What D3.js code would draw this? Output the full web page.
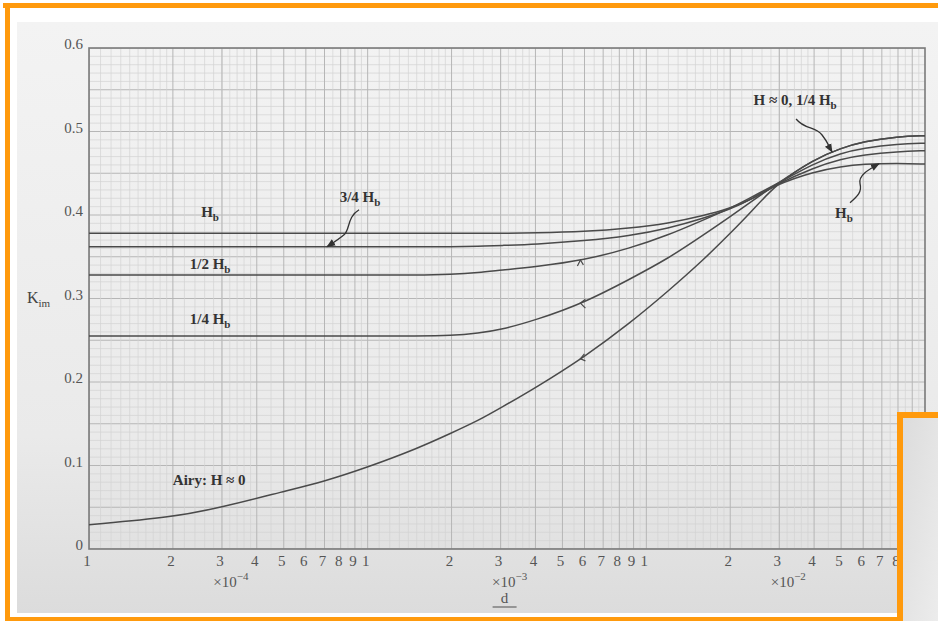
<!DOCTYPE html>
<html lang="en">
<head>
  <meta charset="UTF-8">
  <script src="https://cdn.jsdelivr.net/npm/d3@7"></script>
  <title>Kim vs d</title>
  <style>
    body { margin: 0; background: #fff; }
    svg { display: block; }
  </style>
</head>
<body>
  <svg width="938" height="621"></svg>
  <script>
    // d values (log axis) shared by all curves
    const dGrid = [1e-4, 2e-4, 3e-4, 5e-4, 7e-4, 1e-3, 1.5e-3, 2e-3, 2.5e-3, 3e-3, 4e-3, 6e-3, 8.7e-3,
                   1.2e-2, 1.6e-2, 2e-2, 2.4e-2, 2.9e-2, 4e-2, 5e-2, 6e-2, 8e-2, 1e-1];
    const kAiry  = [0.029, 0.038, 0.050, 0.069, 0.081, 0.098, 0.120, 0.139, 0.154, 0.169, 0.193, 0.230, 0.270,
                    0.309, 0.346, 0.378, 0.405, 0.436, 0.467, 0.480, 0.488, 0.494, 0.495];
    const kQuart = [0.255, 0.255, 0.255, 0.255, 0.255, 0.255, 0.255, 0.2555, 0.2585, 0.2625, 0.274, 0.295, 0.323,
                    0.348, 0.376, 0.398, 0.417, 0.436, 0.467, 0.480, 0.488, 0.494, 0.495];
    const kHalf  = [0.328, 0.328, 0.328, 0.328, 0.328, 0.328, 0.328, 0.329, 0.331, 0.334, 0.338, 0.346, 0.360,
                    0.376, 0.394, 0.408, 0.422, 0.436, 0.462, 0.474, 0.480, 0.485, 0.486];
    const kThree = [0.362, 0.362, 0.362, 0.362, 0.362, 0.362, 0.362, 0.362, 0.3625, 0.3635, 0.365, 0.369, 0.375,
                    0.384, 0.396, 0.407, 0.419, 0.436, 0.457, 0.467, 0.472, 0.476, 0.477];
    const kFull  = [0.378, 0.378, 0.378, 0.378, 0.378, 0.378, 0.378, 0.378, 0.378, 0.378, 0.3785, 0.380, 0.384,
                    0.390, 0.399, 0.408, 0.419, 0.436, 0.452, 0.458, 0.461, 0.462, 0.461];

    const yTicks = [0, 0.1, 0.2, 0.3, 0.4, 0.5, 0.6];
    const yTickLabels = ["0", "0.1", "0.2", "0.3", "0.4", "0.5", "0.6"];
    const decades = [-4, -3, -2];
    const mantissas = [1, 2, 3, 4, 5, 6, 7, 8, 9];

    const svg = d3.select("svg");
    const W = 938, H = 621;
    const serif = "'Liberation Serif', 'DejaVu Serif', serif";

    const x = d3.scaleLog().domain([1e-4, 1e-1]).range([89, 925]);
    const y = d3.scaleLinear().domain([0, 0.6]).range([549, 48]);

    // background: scanned page in an orange frame
    const defs = svg.append("defs");
    const bg = defs.append("linearGradient").attr("id", "paper").attr("x1", 0).attr("x2", 0).attr("y1", 0).attr("y2", 1);
    bg.append("stop").attr("offset", "0%").attr("stop-color", "#f3f3f3");
    bg.append("stop").attr("offset", "70%").attr("stop-color", "#eaeaea");
    bg.append("stop").attr("offset", "100%").attr("stop-color", "#dcdcdc");
    const bg2 = defs.append("linearGradient").attr("id", "inset").attr("x1", 0).attr("x2", 1).attr("y1", 0).attr("y2", 1);
    bg2.append("stop").attr("offset", "0%").attr("stop-color", "#dcdcdc");
    bg2.append("stop").attr("offset", "100%").attr("stop-color", "#ececec");

    svg.append("rect").attr("width", W).attr("height", H).attr("fill", "#fff");
    svg.append("rect").attr("x", 17).attr("y", 22).attr("width", W - 17).attr("height", 591).attr("fill", "url(#paper)");

    const orange = "#ff9a0d";
    svg.append("rect").attr("x", 3).attr("y", 3).attr("width", W - 3).attr("height", 5).attr("fill", orange);
    svg.append("rect").attr("x", 5).attr("y", 3).attr("width", 5).attr("height", H - 3).attr("fill", orange);
    svg.append("rect").attr("x", 5).attr("y", 617).attr("width", 895).attr("height", 4).attr("fill", orange);

    // graph paper grid
    defs.append("clipPath").attr("id", "plot")
      .append("rect").attr("x", 89).attr("y", 48).attr("width", 836).attr("height", 501);

    const grid = svg.append("g").attr("clip-path", "url(#plot)");
    const minorY = d3.range(0, 61).map(i => i / 100);
    grid.selectAll(".hy").data(minorY).join("line")
      .attr("x1", 89).attr("x2", 925)
      .attr("y1", d => y(d)).attr("y2", d => y(d))
      .attr("stroke", (d, i) => i % 5 === 0 ? "#b6b6b6" : "#d2d2d2")
      .attr("stroke-width", (d, i) => i % 5 === 0 ? 1 : 0.7);

    const minorX = [];
    decades.forEach(e => {
      const base = Math.pow(10, e);
      d3.range(1.1, 2, 0.1).forEach(m => minorX.push(m * base));
      d3.range(2.2, 4, 0.2).forEach(m => minorX.push(m * base));
      d3.range(4.5, 10, 1).forEach(m => minorX.push(m * base));
    });
    grid.selectAll(".mx").data(minorX).join("line")
      .attr("x1", d => x(d)).attr("x2", d => x(d))
      .attr("y1", 48).attr("y2", 549)
      .attr("stroke", "#d2d2d2").attr("stroke-width", 0.7);

    const majorX = [];
    decades.forEach(e => mantissas.forEach(m => majorX.push(m * Math.pow(10, e))));
    grid.selectAll(".Mx").data(majorX).join("line")
      .attr("x1", d => x(d)).attr("x2", d => x(d))
      .attr("y1", 48).attr("y2", 549)
      .attr("stroke", "#b6b6b6").attr("stroke-width", 1);

    // plot frame
    svg.append("rect").attr("x", 89).attr("y", 48).attr("width", 836).attr("height", 501)
      .attr("fill", "none").attr("stroke", "#7a7a7a").attr("stroke-width", 1.6);

    // curves
    const series = [kAiry, kQuart, kHalf, kThree, kFull];
    const line = d3.line().x(d => x(d[0])).y(d => y(d[1])).curve(d3.curveBasis);
    const paths = svg.append("g").attr("clip-path", "url(#plot)")
      .selectAll("path").data(series).join("path")
      .attr("d", ks => line(dGrid.map((d, i) => [d, ks[i]])))
      .attr("fill", "none").attr("stroke", "#4a4a4a").attr("stroke-width", 1.5);

    // point on a drawn curve at a given d (search along the path)
    const pointOn = (ks, d) => {
      const node = paths.filter(s => s === ks).node();
      const px = x(d);
      let lo = 0, hi = node.getTotalLength();
      for (let i = 0; i < 40; i++) {
        const mid = (lo + hi) / 2;
        if (node.getPointAtLength(mid).x < px) lo = mid; else hi = mid;
      }
      const p = node.getPointAtLength(lo);
      return [p.x, p.y];
    };

    // small direction marks on three curves
    const markD = 5.8e-3;
    const marks = svg.append("g").attr("stroke", "#4a4a4a").attr("stroke-width", 1.2).attr("fill", "none");
    [[kHalf, "M -3 6 L 0 0 L 3 5"], [kQuart, "M 5 -4 L 0 0 L 5 5"], [kAiry, "M 4 -5 L 0 0 L 5 2"]].forEach(([ks, p]) => {
      const [mx, my] = pointOn(ks, markD);
      marks.append("path").attr("transform", `translate(${mx},${my})`).attr("d", p);
    });

    // y axis labels
    svg.append("g").selectAll("text").data(yTicks).join("text")
      .attr("x", 83).attr("y", d => y(d) + 1)
      .attr("text-anchor", "end")
      .attr("font-family", serif).attr("font-size", 15).attr("fill", "#555")
      .text((d, i) => yTickLabels[i]);

    const kim = svg.append("text").attr("x", 27).attr("y", 303)
      .attr("font-family", serif).attr("font-size", 16).attr("fill", "#444");
    kim.append("tspan").text("K");
    kim.append("tspan").attr("dy", 4).attr("font-size", 11).text("im");

    // x axis labels
    svg.append("g").selectAll("text").data(majorX).join("text")
      .attr("x", d => x(d) - 2).attr("y", 566)
      .attr("text-anchor", "middle")
      .attr("font-family", serif).attr("font-size", 15).attr("fill", "#555")
      .text(d => Math.round(d / Math.pow(10, Math.floor(Math.log10(d) + 1e-9))));

    decades.forEach(e => {
      const t = svg.append("text")
        .attr("x", x(3 * Math.pow(10, e)) + 9).attr("y", 587)
        .attr("text-anchor", "middle")
        .attr("font-family", serif).attr("font-size", 15).attr("fill", "#555");
      t.append("tspan").text("\u00d710");
      t.append("tspan").attr("dy", -7).attr("font-size", 11).text("\u2212" + (-e));
    });

    svg.append("text").attr("x", x(3.1e-3)).attr("y", 603)
      .attr("text-anchor", "middle")
      .attr("font-family", serif).attr("font-size", 15).attr("fill", "#555").text("d");
    svg.append("line").attr("x1", x(3.1e-3) - 12).attr("x2", x(3.1e-3) + 12)
      .attr("y1", 607).attr("y2", 607).attr("stroke", "#666").attr("stroke-width", 1.2);

    // curve labels (bold, H with subscript b)
    const labels = [
      { d: 2.72e-4, k: 0.398, pre: "", sub: true },
      { d: 9.39e-4, k: 0.4156, pre: "3/4 ", sub: true },
      { d: 2.72e-4, k: 0.335, pre: "1/2 ", sub: true },
      { d: 2.72e-4, k: 0.269, pre: "1/4 ", sub: true },
      { d: 2.70e-4, k: 0.0766, pre: "Airy: H \u2248 0", sub: false },
      { d: 3.42e-2, k: 0.5317, pre: "H \u2248 0, 1/4 ", sub: true },
      { d: 5.12e-2, k: 0.397, pre: "", sub: true }
    ];
    labels.forEach(l => {
      const t = svg.append("text")
        .attr("x", x(l.d)).attr("y", y(l.k))
        .attr("text-anchor", "middle")
        .attr("font-family", serif).attr("font-size", 15).attr("font-weight", "bold").attr("fill", "#333");
      if (l.sub) {
        t.append("tspan").text(l.pre + "H");
        t.append("tspan").attr("dy", 4).attr("font-size", 11).text("b");
      } else {
        t.text(l.pre);
      }
    });

    // wavy leader arrows
    defs.append("marker").attr("id", "head")
      .attr("viewBox", "0 0 10 10").attr("refX", 9).attr("refY", 5)
      .attr("markerWidth", 9).attr("markerHeight", 9).attr("markerUnits", "userSpaceOnUse")
      .attr("orient", "auto")
      .append("path").attr("d", "M 0 1 L 10 5 L 0 9 Z").attr("fill", "#333");

    const arrows = [
      { ks: kThree, d: 7.15e-4, pts: [[32, -37], [20, -30], [23, -17], [17, -12], [6, -4]] },
      { ks: kAiry, d: 4.64e-2, pts: [[-36, -33], [-27, -22], [-17, -26], [-10, -17], [-4, -7]] },
      { ks: kFull, d: 6.84e-2, pts: [[-29, 39], [-21, 32], [-17, 28], [-19, 20], [-11, 6]] }
    ];
    arrows.forEach(a => {
      const [tx, ty] = pointOn(a.ks, a.d);
      const p = a.pts.map(([dx, dy]) => [tx + dx, ty + dy]);
      svg.append("path")
        .attr("d", `M ${p[0]} C ${p[1]} ${p[2]} ${p[3]} S ${p[4]} ${tx},${ty}`)
        .attr("fill", "none").attr("stroke", "#333").attr("stroke-width", 1.3)
        .attr("marker-end", "url(#head)");
    });

    // overlapping window corner at bottom right
    svg.append("rect").attr("x", 897).attr("y", 412).attr("width", W - 897).attr("height", H - 412).attr("fill", orange);
    svg.append("rect").attr("x", 903).attr("y", 418).attr("width", W - 903).attr("height", H - 418).attr("fill", "url(#inset)");
  </script>
</body>
</html>
